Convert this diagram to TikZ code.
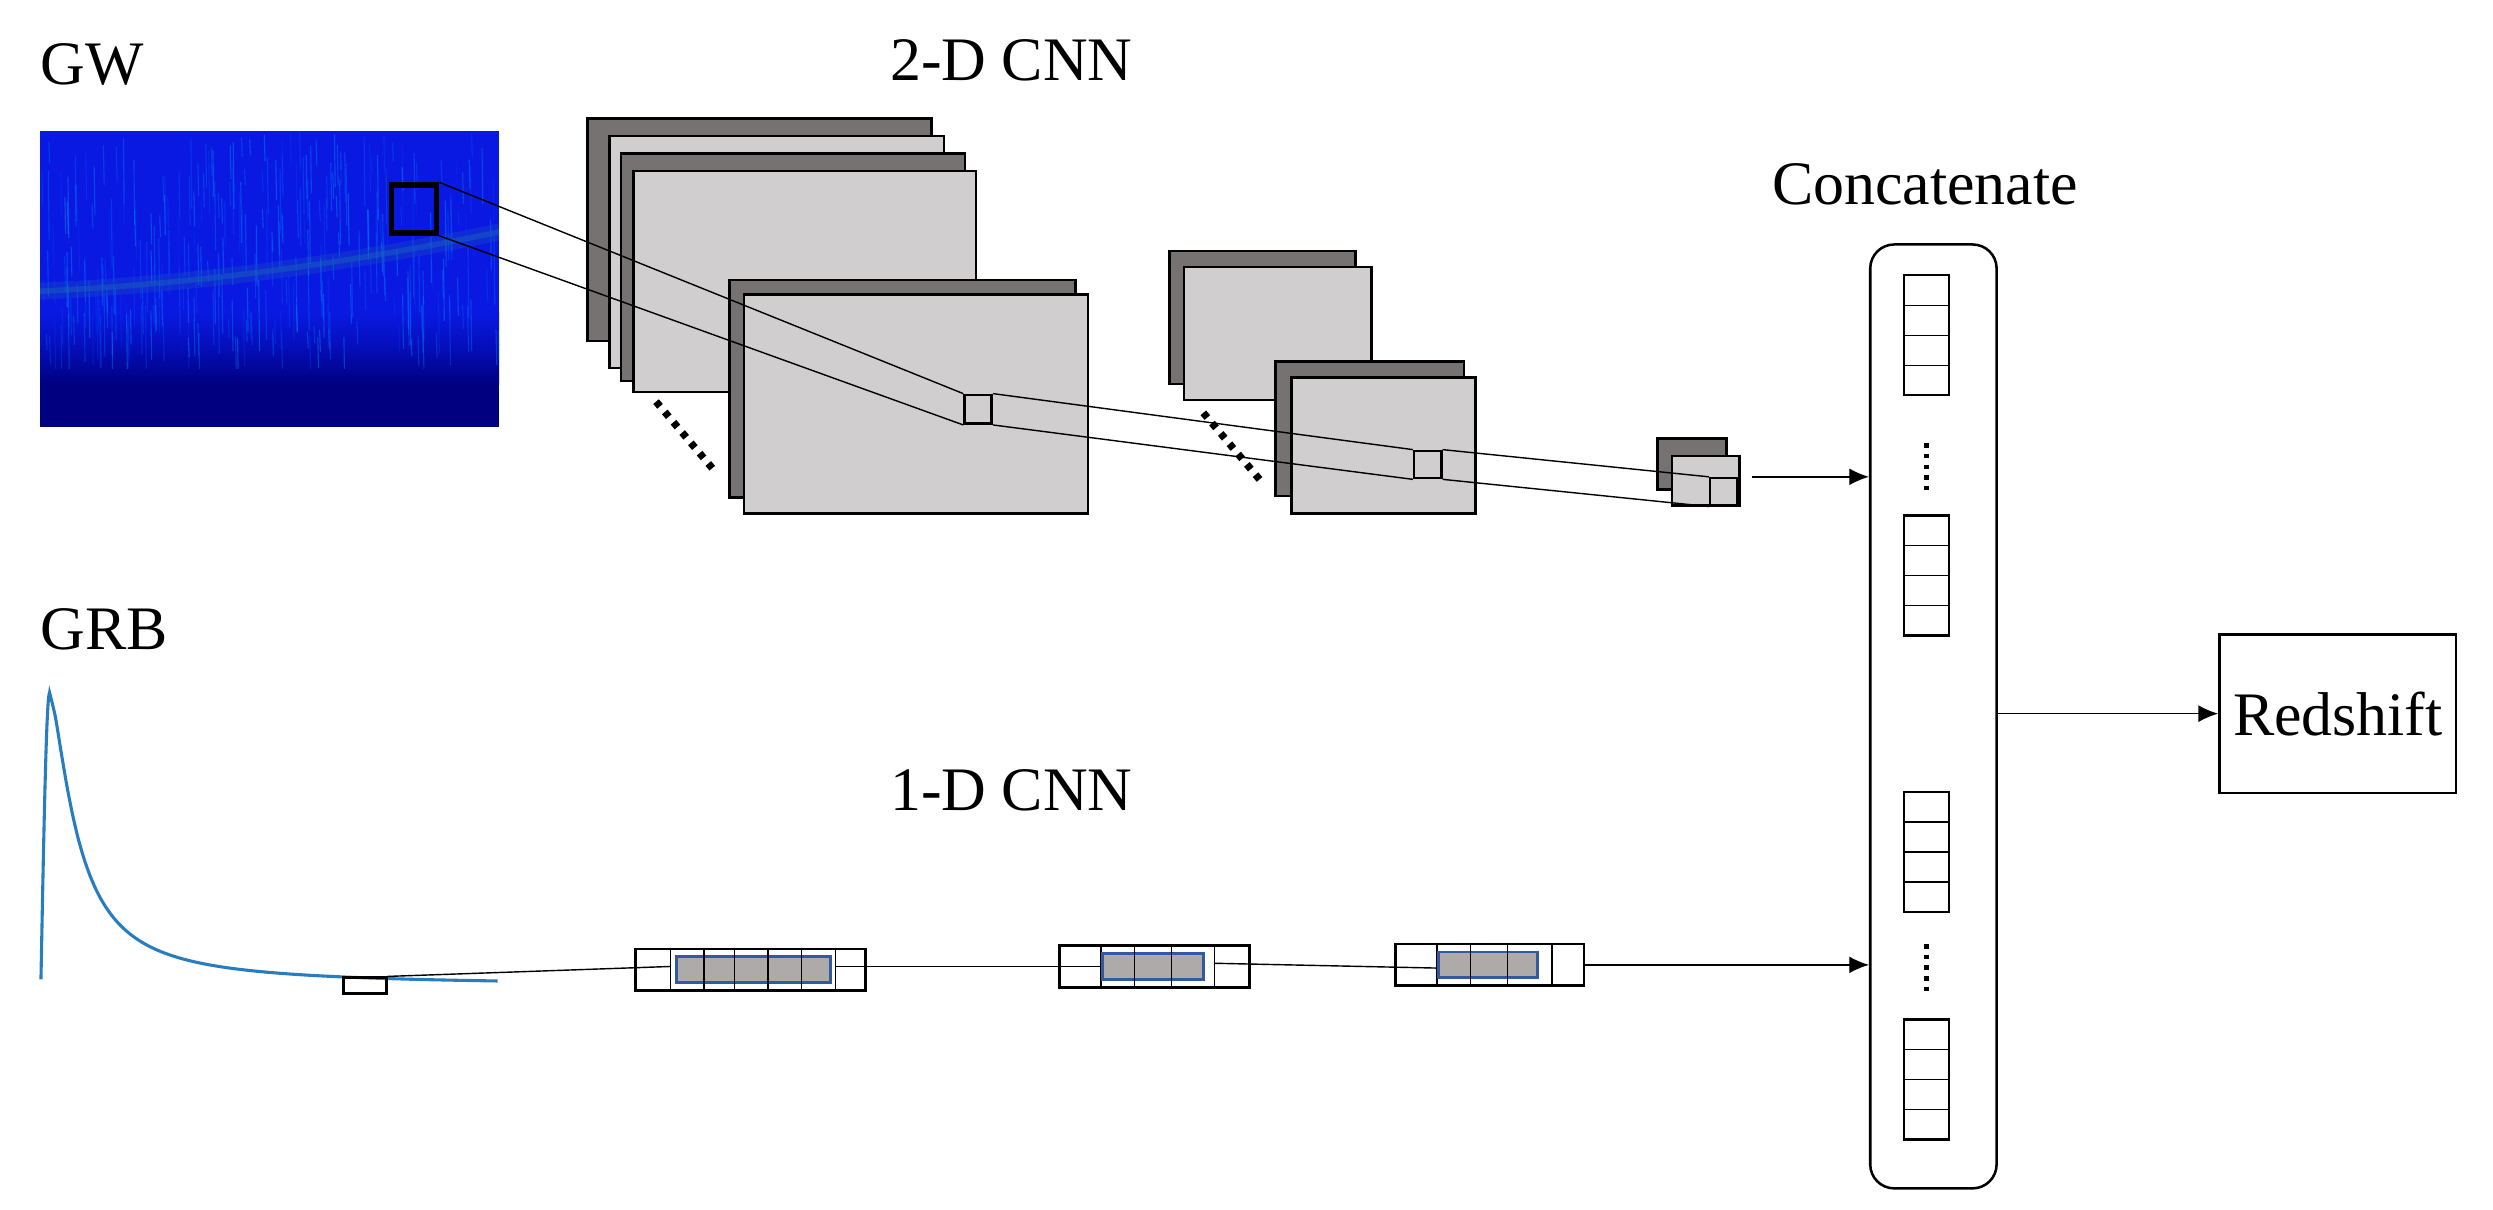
\documentclass[tikz,border=0pt]{standalone}
\usepackage{fontspec}
\setmainfont{Liberation Serif}
\begin{document}
\begin{tikzpicture}[x=0.02cm,y=-0.02cm,
  lbl/.style={font=\fontsize{22}{26}\selectfont, inner sep=0pt},
  dk/.style={draw=black, line width=0.9pt, fill=fmdark},
  lt/.style={draw=black, line width=0.9pt, fill=fmlight},
  thin/.style={draw=black, line width=0.5pt},
  cell/.style={draw=black, line width=0.5pt},
  arr/.style={-{Latex[length=7pt,width=6pt]}, line width=0.5pt}]
\usetikzlibrary{arrows.meta}
\definecolor{fmdark}{RGB}{118,114,114}
\definecolor{fmlight}{RGB}{208,206,207}
\definecolor{specA}{RGB}{10,25,225}
\definecolor{specM}{RGB}{5,15,190}
\definecolor{specB}{RGB}{0,0,128}
\definecolor{oneblue}{RGB}{50,90,160}
\definecolor{onefill}{RGB}{174,170,170}
\definecolor{grbblue}{RGB}{40,125,190}
\useasboundingbox (0,0) rectangle (1558,756);

% labels
\node[lbl, anchor=west] (gw) at (25,40) {GW};
\node[lbl] (cnn2) at (632,38) {2-D CNN};
\node[lbl, anchor=west] (grb) at (25,393) {GRB};
\node[lbl] (cnn1) at (632,494) {1-D CNN};
\node[lbl] (cat) at (1203,115) {Concatenate};

% spectrogram
\fill[specA] (25,82) rectangle (312,195);
\shade[top color=specA, bottom color=specM] (25,195) rectangle (312,215);
\shade[top color=specM, bottom color=specB] (25,215) rectangle (312,240);
\fill[specB] (25,240) rectangle (312,267);
\pgfmathsetseed{7}
\begin{scope}
\clip (25,82) rectangle (312,230);
\foreach \i in {1,...,320}{
  \pgfmathsetmacro{\xx}{25+287*rnd}
  \pgfmathsetmacro{\ya}{82+130*rnd}
  \pgfmathsetmacro{\yl}{10+35*rnd}
  \pgfmathsetmacro{\cc}{20+60*rnd}
  \draw[line width=0.4pt, color=blue!\cc!cyan, opacity=0.3] (\xx,\ya) -- ++(0.5,\yl);
}
\draw[line width=6pt, color=cyan!40!blue, opacity=0.25]
  (25,182) .. controls (110,178) and (200,168) .. (312,145);
\draw[line width=2pt, color=cyan!40!blue, opacity=0.45]
  (25,182) .. controls (110,178) and (200,168) .. (312,145);
\end{scope}
\node[draw=black, line width=2pt, minimum width=16pt, minimum height=17pt, inner sep=0pt, anchor=north west] (k0) at (243,114) {};

% stack 1
\draw[dk] (367,74) rectangle (582,213);
\draw[lt] (381,85) rectangle (590,230);
\draw[dk] (388,96) rectangle (603,238);
\draw[lt] (396,107) rectangle (610,245);
\draw[line width=2.6pt, dash pattern=on 2.2pt off 2.6pt] (410,251) -- (448,296);
\draw[dk] (456,175) rectangle (672,311);
\draw[lt] (465,184) rectangle (680,321);
\node[draw=black, line width=0.9pt, fill=fmlight, minimum width=0.34cm, minimum height=0.36cm, inner sep=0pt, anchor=north west] (k1) at (602,246) {};

% stack 2
\draw[dk] (731,157) rectangle (847,240);
\draw[lt] (740,167) rectangle (857,250);
\draw[line width=2.6pt, dash pattern=on 2.2pt off 2.6pt] (752,258) -- (790,303);
\draw[dk] (797,226) rectangle (915,310);
\draw[lt] (807,236) rectangle (922,321);
\node[draw=black, line width=0.9pt, fill=fmlight, minimum width=0.34cm, minimum height=0.34cm, inner sep=0pt, anchor=north west] (k2) at (883,281) {};

% stack 3
\draw[dk] (1036,274) rectangle (1079,306);
\draw[lt] (1045,285) rectangle (1087,316);
\node[draw=black, line width=0.9pt, fill=fmlight, minimum width=0.34cm, minimum height=0.34cm, inner sep=0pt, anchor=north west] (k3) at (1068,298) {};

% receptive field lines
\draw[thin] (k0.north east) -- (k1.north west);
\draw[thin] (k0.south east) -- (k1.south west);
\draw[thin] (k1.north east) -- (k2.north west);
\draw[thin] (k1.south east) -- (k2.south west);
\draw[thin] (k2.north east) -- (k3.north west);
\draw[thin] (k2.south east) -- (k3.south west);

% concatenate
\node[draw=black, line width=0.9pt, rounded corners=0.3cm, minimum width=1.58cm, minimum height=11.8cm, inner sep=0pt, anchor=north west] (cbox) at (1168,152) {};
\foreach \top in {172,322,495,637}{
  \draw[line width=0.9pt] (1190,\top) rectangle (1218,\top+75);
  \foreach \k in {1,2,3}{\draw[cell] (1190,\top+\k*18.75) -- (1218,\top+\k*18.75);}
}
\draw[line width=1.6pt, dash pattern=on 1.6pt off 2.2pt] (1204,277) -- (1204,308);
\draw[line width=1.6pt, dash pattern=on 1.6pt off 2.2pt] (1204,590) -- (1204,621);

\coordinate (c3o) at (1095,298);
\draw[arr] (c3o) -- (cbox.west |- c3o);

% redshift
\node[draw=black, line width=0.9pt, lbl, minimum width=2.96cm, minimum height=1.98cm] (red) at (1461,446) {Redshift};
\draw[arr] (cbox.east |- red) -- (red.west);

% GRB curve
\draw[grbblue, line width=1.1pt]
  plot[domain=0:1, samples=20, smooth] ({25.6+5.4*\x},{616-4-179*sin(90*\x)})
  -- plot[domain=0:280, samples=80, smooth] ({31+\x},{616-183/(1+(\x/18)^1.5)});
\node[draw=black, line width=0.9pt, minimum width=0.54cm, minimum height=0.2cm, inner sep=0pt] (g0) at (228,616) {};

% 1-D CNN layers
\draw[line width=0.9pt] (397,593) rectangle (541,619);
\draw[cell] (419,593) -- (419,619); \draw[cell] (522,593) -- (522,619);
\draw[oneblue, line width=1pt, fill=onefill] (423,598) rectangle (519,614);
\foreach \xv in {440,459,480,501}{\draw[cell] (\xv,593) -- (\xv,619);}
\coordinate (l1a) at (419,604); \coordinate (l1b) at (522,604);

\draw[line width=0.9pt] (662,591) rectangle (781,617);
\draw[cell] (688,591) -- (688,617); \draw[cell] (759,591) -- (759,617);
\draw[oneblue, line width=1pt, fill=onefill] (689,596) rectangle (752,612);
\foreach \xv in {709,732}{\draw[cell] (\xv,591) -- (\xv,617);}
\coordinate (l2a) at (688,604); \coordinate (l2b) at (759,602);

\draw[line width=0.9pt] (872,590) rectangle (990,616);
\draw[cell] (898,590) -- (898,616); \draw[cell] (970,590) -- (970,616);
\draw[oneblue, line width=1pt, fill=onefill] (899,595) rectangle (961,611);
\foreach \xv in {919,942}{\draw[cell] (\xv,590) -- (\xv,616);}
\coordinate (l3a) at (898,605); \coordinate (l3b) at (990,603);

\draw[thin] (g0.north east) -- (l1a);
\draw[thin] (l1b) -- (l2a);
\draw[thin] (l2b) -- (l3a);
\draw[arr] (l3b) -- (cbox.west |- l3b);
\end{tikzpicture}
\end{document}
